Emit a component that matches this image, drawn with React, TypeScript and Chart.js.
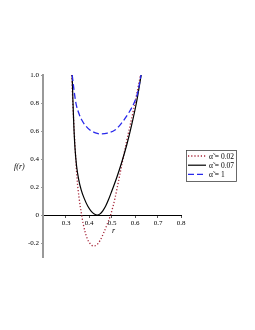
import React, { useEffect, useRef } from "react";
import { Chart, registerables } from "chart.js";

Chart.register(...registerables);

const redR = [0.325, 0.331, 0.339, 0.348, 0.357, 0.368, 0.375, 0.383, 0.393, 0.405, 0.419, 0.432, 0.448, 0.467, 0.484, 0.494, 0.513, 0.53, 0.56, 0.594, 0.624];
const redF = [1.0, 0.75, 0.5, 0.26, 0.12, 0.0, -0.065, -0.12, -0.172, -0.205, -0.222, -0.215, -0.183, -0.115, -0.045, 0.0, 0.12, 0.255, 0.5, 0.755, 1.0];

const blackR = [0.327, 0.33, 0.334, 0.339, 0.346, 0.355, 0.366, 0.38, 0.395, 0.41, 0.423, 0.436, 0.448, 0.46, 0.472, 0.485, 0.5, 0.52, 0.542, 0.564, 0.585, 0.606, 0.627];
const blackF = [1.0, 0.82, 0.64, 0.48, 0.35, 0.255, 0.18, 0.115, 0.062, 0.026, 0.007, 0.0, 0.008, 0.03, 0.062, 0.11, 0.175, 0.264, 0.375, 0.5, 0.64, 0.8, 1.0];

const blueR = [0.327, 0.335, 0.343, 0.355, 0.368, 0.385, 0.404, 0.428, 0.451, 0.48, 0.513, 0.532, 0.548, 0.573, 0.596, 0.612, 0.626];
const blueF = [1.0, 0.89, 0.8, 0.73, 0.68, 0.638, 0.607, 0.587, 0.579, 0.585, 0.607, 0.637, 0.67, 0.73, 0.8, 0.875, 1.0];

const xTicks = [0.3, 0.4, 0.5, 0.6, 0.7, 0.8];
const yTicks = [-0.2, 0, 0.2, 0.4, 0.6, 0.8, 1.0];
const legendLabels = ["\u03B1\u0303 = 0.02", "\u03B1\u0303 = 0.07", "\u03B1\u0303 = 1"];

const RED = "rgb(165,35,55)";
const BLACK = "#000000";
const BLUE = "rgb(40,40,235)";
const SERIF = "'Liberation Serif', 'DejaVu Serif', serif";

const toPts = (xs: number[], ys: number[]) => xs.map((x, i) => ({ x, y: ys[i] }));

export default function App() {
  const ref = useRef<HTMLCanvasElement | null>(null);
  useEffect(() => {
    if (!ref.current) return;
    const styles = [
      { color: RED, dash: [1.2, 2], width: 1.3 },
      { color: BLACK, dash: [] as number[], width: 1.2 },
      { color: BLUE, dash: [6, 3], width: 1.3 },
    ];
    const overlay = {
      id: "overlay",
      afterDraw(chart: any) {
        const ctx = chart.ctx;
        ctx.save();
        ctx.fillStyle = "#000";
        ctx.font = `italic 8px ${SERIF}`;
        ctx.textBaseline = "middle";
        ctx.textAlign = "left";
        ctx.fillText("f(r)", 14, 167);
        ctx.fillText("r", 112, 231);
        // legend
        const bx = 186, by = 150, bw = 50, bh = 31;
        ctx.strokeStyle = "#444";
        ctx.lineWidth = 0.8;
        ctx.setLineDash([]);
        ctx.strokeRect(bx + 0.5, by + 0.5, bw, bh);
        ctx.font = `7.5px ${SERIF}`;
        legendLabels.forEach((lab, i) => {
          const y = by + 6 + i * 9.2;
          const s = styles[i];
          ctx.beginPath();
          ctx.strokeStyle = s.color;
          ctx.lineWidth = s.width;
          ctx.setLineDash(s.dash);
          ctx.moveTo(bx + 2, y);
          ctx.lineTo(bx + 20, y);
          ctx.stroke();
          ctx.setLineDash([]);
          ctx.fillStyle = "#000";
          ctx.fillText(lab, bx + 23, y + 1);
        });
        ctx.restore();
      },
    };
    const chart = new Chart(ref.current, {
      type: "scatter",
      data: {
        datasets: [
          { label: legendLabels[0], data: toPts(redR, redF), showLine: true, borderColor: RED, borderWidth: 1.3, borderDash: [1.2, 2], pointRadius: 0, cubicInterpolationMode: "monotone", order: 3 },
          { label: legendLabels[1], data: toPts(blackR, blackF), showLine: true, borderColor: BLACK, borderWidth: 1.2, pointRadius: 0, cubicInterpolationMode: "monotone", order: 2 },
          { label: legendLabels[2], data: toPts(blueR, blueF), showLine: true, borderColor: BLUE, borderWidth: 1.3, borderDash: [6, 3], pointRadius: 0, cubicInterpolationMode: "monotone", order: 1 },
        ],
      } as any,
      options: {
        responsive: false,
        animation: false,
        layout: { padding: { top: 75, right: 74, bottom: 73, left: 0 } },
        plugins: { legend: { display: false }, tooltip: { enabled: false } },
        scales: {
          x: {
            type: "linear",
            min: 0.2,
            max: 0.8,
            position: { y: 0 } as any,
            afterFit: (s: any) => { s.height = 0; },
            afterBuildTicks: (s: any) => { s.ticks = xTicks.map((v) => ({ value: v })); },
            grid: { display: true, drawOnChartArea: false, drawTicks: true, tickLength: 2, color: "#555" },
            border: { display: true, color: "#000", width: 1 },
            ticks: { font: { family: SERIF, size: 7 }, color: "#000", padding: 2, maxRotation: 0, callback: (v: any) => Number(v).toFixed(1) },
          },
          y: {
            type: "linear",
            min: -0.3,
            max: 1.0,
            afterFit: (s: any) => { s.width = 43; },
            afterBuildTicks: (s: any) => { s.ticks = yTicks.map((v) => ({ value: v })); },
            grid: { display: true, drawOnChartArea: false, drawTicks: true, tickLength: 2, color: "#999" },
            border: { display: true, color: "#999", width: 2 },
            ticks: { font: { family: SERIF, size: 7 }, color: "#000", padding: 2, callback: (v: any) => (v === 0 ? "0" : Number(v).toFixed(1)) },
          },
        },
      },
      plugins: [overlay],
    });
    return () => chart.destroy();
  }, []);
  return (
    <div style={{ position: "fixed", left: 0, top: 0, width: 255, height: 330, background: "#fff" }}>
      <canvas ref={ref} width={255} height={330} style={{ width: 255, height: 330, display: "block" }} />
    </div>
  );
}
